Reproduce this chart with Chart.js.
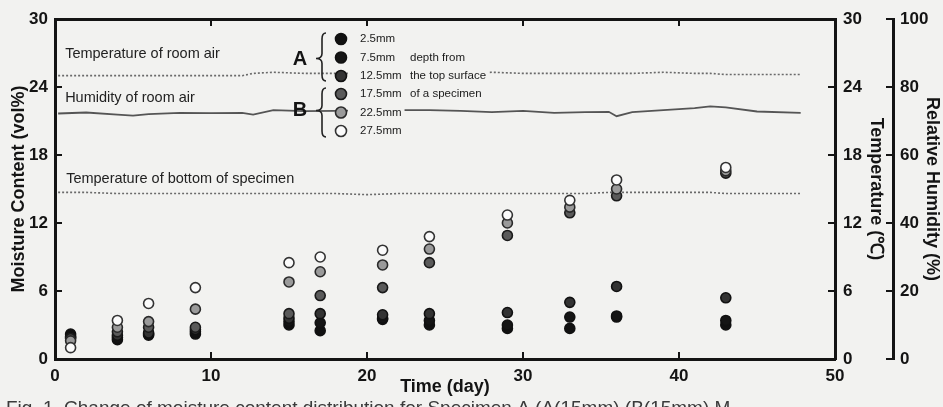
<!DOCTYPE html>
<html>
<head>
<meta charset="utf-8">
<script src="https://cdn.jsdelivr.net/npm/chart.js@4.4.1/dist/chart.umd.min.js"></script>
<style>
  html, body { margin: 0; padding: 0; background: #f2f2f0; }
  #wrap { width: 943px; height: 407px; }
</style>
</head>
<body>
<div id="wrap"><canvas id="moistureChart" width="943" height="407"></canvas></div>
<script>
// moisture content (vol%) by depth from the top surface
const depths = ['2.5mm', '7.5mm', '12.5mm', '17.5mm', '22.5mm', '27.5mm'];
const days = [1, 4, 6, 9, 15, 17, 21, 24, 29, 33, 36, 43];
const mc2_5  = [2.2, 1.7, 2.1, 2.2, 3.0, 2.5, 3.5, 3.0, 2.7, 2.7, 3.7, 3.0];
const mc7_5  = [2.0, 1.9, 2.2, 2.4, 3.3, 3.2, 3.6, 3.4, 3.0, 3.7, 3.8, 3.4];
const mc12_5 = [1.9, 2.1, 2.3, 2.6, 3.6, 4.0, 3.9, 4.0, 4.1, 5.0, 6.4, 5.4];
const mc17_5 = [1.8, 2.4, 2.8, 2.8, 4.0, 5.6, 6.3, 8.5, 10.9, 12.9, 14.4, 16.4];
const mc22_5 = [1.6, 2.8, 3.3, 4.4, 6.8, 7.7, 8.3, 9.7, 12.0, 13.4, 15.0, 16.6];
const mc27_5 = [1.0, 3.4, 4.9, 6.3, 8.5, 9.0, 9.6, 10.8, 12.7, 14.0, 15.8, 16.9];

// room conditions
const envDays      = [0.2, 2, 4, 5, 6, 8, 10, 12, 12.7, 14, 16, 18, 20, 22, 24, 26, 28, 30, 32, 34, 35.5, 36, 37, 39, 41, 42, 43, 45, 47.8];
const roomTemp     = [25.0, 25.0, 25.0, 25.0, 25.0, 25.0, 25.0, 25.0, 25.2, 25.3, 25.2, 25.2, 25.2, 25.2, 25.2, 25.2, 25.3, 25.2, 25.2, 25.2, 25.2, 25.2, 25.2, 25.3, 25.2, 25.2, 25.1, 25.1, 25.1];
const roomHumidity = [72.2, 72.5, 71.9, 71.6, 72.0, 72.4, 72.3, 72.4, 71.9, 73.2, 72.9, 73.0, 73.1, 73.2, 73.2, 73.0, 72.6, 73.0, 72.4, 72.6, 72.7, 71.4, 72.6, 73.2, 73.8, 74.3, 74.0, 72.8, 72.4];
const bottomTemp   = [14.7, 14.7, 14.6, 14.6, 14.6, 14.6, 14.6, 14.6, 14.6, 14.6, 14.6, 14.6, 14.5, 14.6, 14.6, 14.6, 14.6, 14.6, 14.6, 14.6, 14.7, 14.7, 14.7, 14.7, 14.7, 14.7, 14.6, 14.6, 14.6];

// tick settings
const mcTicks = { min: 0, max: 30, step: 6 };
const tempTicks = { min: 0, max: 30, step: 6 };
const humTicks = { min: 0, max: 100, step: 20 };
const dayTicks = { min: 0, max: 50, step: 10 };

const fillColors = ['#111', '#151515', '#333', '#5a5a5a', '#9a9a9a', '#fbfbfb'];
const edgeColors = ['#111', '#111', '#111', '#1a1a1a', '#2a2a2a', '#333'];

const FONT = '"Liberation Sans", Arial, sans-serif';
const INK = '#141414';
const PAPER = '#f2f2f0';

const toPoints = (xs, ys) => xs.map((x, i) => ({ x: x, y: ys[i] }));
const mcSeries = [mc2_5, mc7_5, mc12_5, mc17_5, mc22_5, mc27_5];

const datasets = mcSeries.map((vals, i) => ({
  label: depths[i],
  type: 'scatter',
  data: toPoints(days, vals),
  yAxisID: 'y',
  pointRadius: 5,
  pointBackgroundColor: fillColors[i],
  pointBorderColor: edgeColors[i],
  pointBorderWidth: 1.6,
  order: 6 - i
}));

datasets.push({
  label: 'Temperature of room air',
  type: 'line',
  data: toPoints(envDays, roomTemp),
  yAxisID: 'yTemp',
  borderColor: '#6a6a6a',
  borderWidth: 1.6,
  borderDash: [2, 2],
  pointRadius: 0,
  order: 10
});
datasets.push({
  label: 'Humidity of room air',
  type: 'line',
  data: toPoints(envDays, roomHumidity),
  yAxisID: 'yHum',
  borderColor: '#555',
  borderWidth: 1.8,
  pointRadius: 0,
  order: 10
});
datasets.push({
  label: 'Temperature of bottom of specimen',
  type: 'line',
  data: toPoints(envDays, bottomTemp),
  yAxisID: 'yTemp',
  borderColor: '#6a6a6a',
  borderWidth: 1.6,
  borderDash: [2, 2],
  pointRadius: 0,
  order: 10
});

const paperBg = {
  id: 'paperBg',
  beforeDraw(chart) {
    const c = chart.ctx;
    c.save();
    c.fillStyle = PAPER;
    c.fillRect(0, 0, chart.width, chart.height);
    c.restore();
  }
};

function drawBrace(c, x, yTop, yBot, yMid) {
  c.beginPath();
  c.moveTo(x + 4, yTop);
  c.quadraticCurveTo(x, yTop, x, yTop + 6);
  c.lineTo(x, yMid - 5);
  c.quadraticCurveTo(x, yMid, x - 6, yMid);
  c.quadraticCurveTo(x, yMid, x, yMid + 5);
  c.lineTo(x, yBot - 6);
  c.quadraticCurveTo(x, yBot, x + 4, yBot);
  c.stroke();
}

const annotations = {
  id: 'annotations',
  afterDatasetsDraw(chart) {
    const c = chart.ctx;
    const area = chart.chartArea;
    const xs = chart.scales.x;
    const yt = chart.scales.yTemp;
    c.save();
    c.fillStyle = '#222';
    c.textBaseline = 'middle';
    c.textAlign = 'left';
    c.font = '14.5px ' + FONT;
    const lx = xs.getPixelForValue(0.65);
    c.fillText('Temperature of room air', lx, yt.getPixelForValue(roomTemp[0]) - 22);
    c.fillText('Humidity of room air', lx, chart.scales.yHum.getPixelForValue(roomHumidity[0]) - 16);
    c.fillText('Temperature of bottom of specimen', lx + 1, yt.getPixelForValue(bottomTemp[0]) - 13);

    // legend block
    const mx = area.left + 286;
    const rows = [20, 38.5, 57, 75, 93.5, 112].map(d => area.top + d);
    const notes = ['', 'depth from', 'the top surface', 'of a specimen', '', ''];
    c.font = '11.5px ' + FONT;
    rows.forEach((y, i) => {
      const w1 = c.measureText(depths[i]).width;
      let end = mx + 19 + w1;
      if (notes[i]) end = mx + 69 + c.measureText(notes[i]).width;
      c.fillStyle = PAPER;
      c.fillRect(mx + 7, y - 6, end - mx - 4, 12);
      c.beginPath();
      c.arc(mx, y, 5.5, 0, Math.PI * 2);
      c.fillStyle = fillColors[i];
      c.fill();
      c.lineWidth = 1.6;
      c.strokeStyle = edgeColors[i];
      c.stroke();
      c.fillStyle = '#1a1a1a';
      c.fillText(depths[i], mx + 19, y);
      if (notes[i]) c.fillText(notes[i], mx + 69, y);
    });

    c.strokeStyle = '#222';
    c.lineWidth = 1.6;
    drawBrace(c, mx - 19, rows[0] - 6, rows[2] + 5, rows[1] + 1);
    drawBrace(c, mx - 19, rows[3] - 6, rows[5] + 6, rows[4] - 2);
    c.font = 'bold 20px ' + FONT;
    c.fillStyle = INK;
    c.textAlign = 'center';
    c.fillText('A', mx - 41, rows[1] + 2);
    c.fillText('B', mx - 41, rows[4] - 2);

    // caption, cut by the bottom edge as in the scan
    c.font = '19px ' + FONT;
    c.fillStyle = '#3a3a3a';
    c.textAlign = 'left';
    c.textBaseline = 'top';
    c.fillText('Fig. 1  Change of moisture content distribution for Specimen A (A(15mm) (B(15mm) M', 6, 399, 935);
    c.restore();
  }
};

const tickFont = { family: FONT, size: 17, weight: 'bold' };
const titleFont = { family: FONT, size: 18, weight: 'bold' };
const axisGrid = { drawOnChartArea: false, tickLength: -7, color: INK, lineWidth: 2 };
const axisBorder = { display: true, color: INK, width: 3 };

// no extra room for overflowing tick labels: the plot box is fixed
const noPad = s => { s.paddingTop = 0; s.paddingBottom = 0; s.paddingLeft = 0; s.paddingRight = 0; };

new Chart(document.getElementById('moistureChart'), {
  type: 'scatter',
  data: { datasets: datasets },
  plugins: [paperBg, annotations],
  options: {
    responsive: false,
    animation: false,
    devicePixelRatio: 1,
    layout: { padding: { top: 19, left: 0, right: 0, bottom: 0 } },
    plugins: {
      legend: { display: false },
      tooltip: { enabled: false }
    },
    scales: {
      x: {
        type: 'linear',
        position: 'bottom',
        min: dayTicks.min,
        max: dayTicks.max,
        ticks: { stepSize: dayTicks.step, font: tickFont, color: INK, padding: 14, maxRotation: 0 },
        grid: axisGrid,
        border: axisBorder,
        title: { display: true, text: 'Time (day)', font: titleFont, color: INK, padding: { top: 0, bottom: 9 } },
        afterFit: s => { s.height = 48; noPad(s); }
      },
      xTop: {
        type: 'linear',
        position: 'top',
        min: dayTicks.min,
        max: dayTicks.max,
        ticks: { display: false, stepSize: dayTicks.step },
        grid: axisGrid,
        border: axisBorder,
        afterFit: s => { s.height = 0; noPad(s); }
      },
      y: {
        type: 'linear',
        position: 'left',
        min: mcTicks.min,
        max: mcTicks.max,
        ticks: { stepSize: mcTicks.step, font: tickFont, color: INK, padding: 14 },
        grid: axisGrid,
        border: axisBorder,
        title: { display: true, text: 'Moisture Content (vol%)', font: titleFont, color: INK, padding: { top: 8, bottom: 0 } },
        afterFit: s => { s.width = 55; noPad(s); }
      },
      yTemp: {
        type: 'linear',
        position: 'right',
        weight: 0,
        min: tempTicks.min,
        max: tempTicks.max,
        ticks: { stepSize: tempTicks.step, font: tickFont, color: INK, padding: 15 },
        grid: axisGrid,
        border: axisBorder,
        title: { display: true, text: 'Temperature (\u2103)', font: titleFont, color: INK, padding: { top: 6, bottom: 0 } },
        afterFit: s => { s.width = 58; noPad(s); }
      },
      yHum: {
        type: 'linear',
        position: 'right',
        weight: 1,
        min: humTicks.min,
        max: humTicks.max,
        ticks: { stepSize: humTicks.step, font: tickFont, color: INK, padding: 14 },
        grid: axisGrid,
        border: axisBorder,
        title: { display: true, text: 'Relative Humidity (%)', font: titleFont, color: INK, padding: { top: 0, bottom: 0 } },
        afterFit: s => { s.width = 50; noPad(s); }
      }
    }
  }
});
</script>
</body>
</html>
